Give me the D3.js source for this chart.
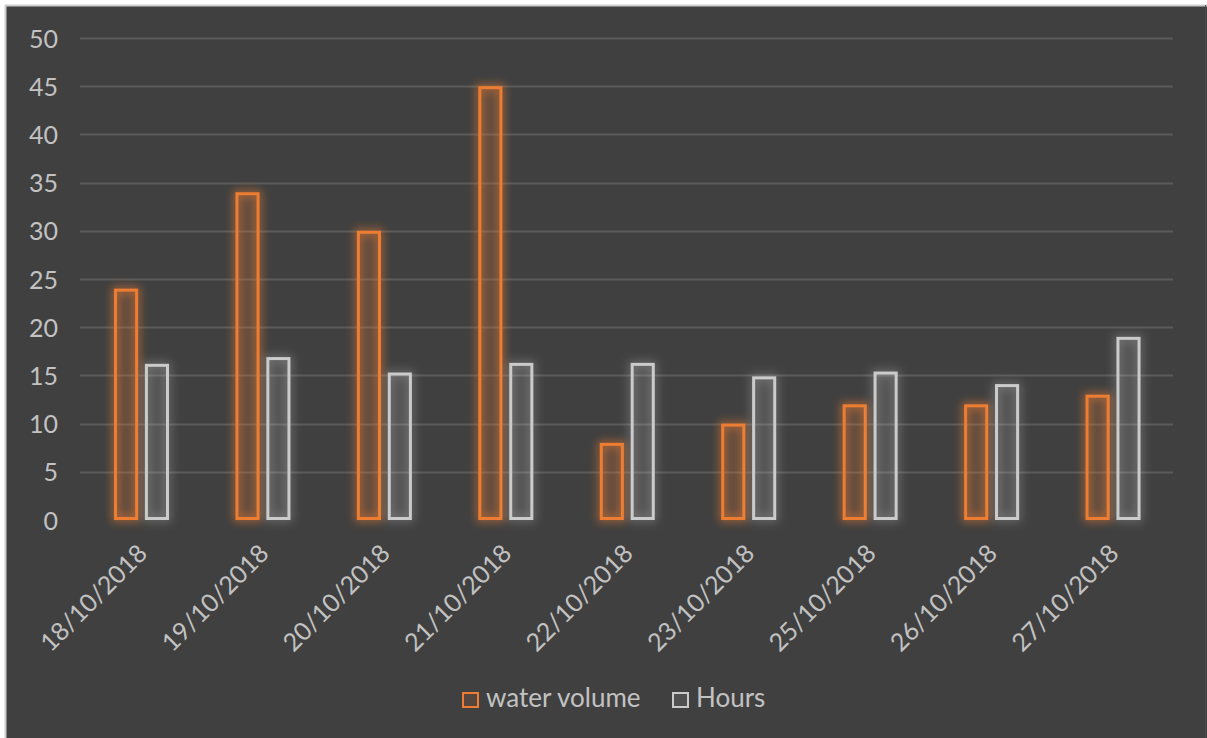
<!DOCTYPE html>
<html>
<head>
<meta charset="utf-8">
<script src="https://cdn.jsdelivr.net/npm/d3@7"></script>
<style>
  html, body { margin: 0; padding: 0; background: #ffffff; }
  svg { display: block; }
  text { font-family: Lato, "Open Sans", sans-serif; }
</style>
</head>
<body>
<svg id="chart" width="1207" height="738"></svg>
<script>
// Daily readings
const categories = ["18/10/2018", "19/10/2018", "20/10/2018", "21/10/2018", "22/10/2018",
                    "23/10/2018", "25/10/2018", "26/10/2018", "27/10/2018"];
const waterVolume = [24, 34, 30, 45, 8, 10, 12, 12, 13];
const hours = [16.2, 16.9, 15.3, 16.3, 16.3, 14.9, 15.4, 14.1, 19.0];
const seriesNames = ["water volume", "Hours"];
const yTicks = [0, 5, 10, 15, 20, 25, 30, 35, 40, 45, 50];

const W = 1207, H = 738;
const plot = { left: 80, right: 1173, top: 38, bottom: 520 };
const colors = { "water volume": "#ed7d31", "Hours": "#cbcbcb" };
const labelColor = "#c2c2c2";

const svg = d3.select("#chart");

// Glow filters for the bar outlines
const defs = svg.append("defs");
function glow(id, color, std, op) {
  const f = defs.append("filter").attr("id", id)
    .attr("x", "-60%").attr("y", "-20%").attr("width", "220%").attr("height", "140%");
  f.append("feMorphology").attr("in", "SourceAlpha").attr("operator", "dilate").attr("radius", 2).attr("result", "d");
  f.append("feGaussianBlur").attr("in", "d").attr("stdDeviation", std).attr("result", "b");
  f.append("feFlood").attr("flood-color", color).attr("flood-opacity", op);
  f.append("feComposite").attr("in2", "b").attr("operator", "in").attr("result", "g");
  const m = f.append("feMerge");
  m.append("feMergeNode").attr("in", "g");
  m.append("feMergeNode").attr("in", "SourceGraphic");
}
glow("glow-orange", "#ed7d31", 4.5, 0.55);
glow("glow-gray", "#d0d0d0", 5, 0.3);

// Chart background and frame
svg.append("rect").attr("x", 5).attr("y", 5).attr("width", W - 5).attr("height", H - 5).attr("fill", "#404040");
svg.append("line").attr("x1", 5.5).attr("x2", 5.5).attr("y1", 5).attr("y2", H).attr("stroke", "#cdcdcd").attr("stroke-width", 2);
svg.append("line").attr("x1", 5).attr("x2", W).attr("y1", 5.5).attr("y2", 5.5).attr("stroke", "#cdcdcd").attr("stroke-width", 2);
svg.append("line").attr("x1", W - 1.5).attr("x2", W - 1.5).attr("y1", 5).attr("y2", H).attr("stroke", "#4c4c4c").attr("stroke-width", 1);

const x = d3.scaleBand().domain(categories).range([plot.left, plot.right]).paddingInner(0).paddingOuter(0);
const y = d3.scaleLinear().domain([0, 50]).range([plot.bottom, plot.top]);
const xSub = d3.scaleBand().domain(seriesNames).range([34, 89]).paddingInner(0.22);

// Horizontal gridlines
svg.append("g").selectAll("line").data(yTicks.filter(t => t > 0)).join("line")
  .attr("x1", plot.left).attr("x2", plot.right)
  .attr("y1", d => Math.round(y(d)) + 0.5).attr("y2", d => Math.round(y(d)) + 0.5)
  .attr("stroke", "#5b5b5b").attr("stroke-width", 2);

// Y axis labels
const yAxis = d3.axisLeft(y).tickValues(yTicks).tickSize(0).tickPadding(0);
const gy = svg.append("g").attr("transform", "translate(58,0)").call(yAxis);
gy.select(".domain").remove();
gy.selectAll("text").attr("fill", labelColor).attr("font-size", 25)
  .attr("font-family", "Lato, 'Open Sans', sans-serif").attr("dy", "0.36em");

// X axis labels, rotated
const xAxis = d3.axisBottom(x).tickSize(0).tickPadding(0);
const gx = svg.append("g").attr("transform", `translate(0,${plot.bottom})`).call(xAxis);
gx.select(".domain").remove();
gx.selectAll("text")
  .attr("fill", labelColor).attr("font-size", 25)
  .attr("font-family", "Lato, 'Open Sans', sans-serif")
  .attr("text-anchor", "end").attr("dy", 0).attr("y", 0)
  .attr("transform", "translate(8,35) rotate(-45)");

// Bars
const rows = categories.map((c, i) => ({ c, vals: [
  { s: "water volume", v: waterVolume[i] },
  { s: "Hours", v: hours[i] }
]}));
const groups = svg.append("g").selectAll("g").data(rows).join("g")
  .attr("transform", d => `translate(${x(d.c)},0)`);
groups.selectAll("rect").data(d => d.vals).join("rect")
  .attr("x", d => xSub(d.s) + 1.5)
  .attr("width", xSub.bandwidth() - 3)
  .attr("y", d => y(d.v) + 1.5)
  .attr("height", d => y(0) - y(d.v) - 3)
  .attr("fill", d => colors[d.s])
  .attr("fill-opacity", d => d.s === "Hours" ? 0.1 : 0.13)
  .attr("stroke", d => colors[d.s])
  .attr("stroke-width", 3)
  .attr("filter", d => d.s === "Hours" ? "url(#glow-gray)" : "url(#glow-orange)");

// Legend
const legend = svg.append("g").attr("transform", "translate(462,692)");
const legendX = [0, 210];
seriesNames.forEach((s, i) => {
  const g = legend.append("g").attr("transform", `translate(${legendX[i]},0)`);
  g.append("rect").attr("x", 1).attr("y", 1).attr("width", 15).attr("height", 14)
    .attr("fill", colors[s]).attr("fill-opacity", 0.12)
    .attr("stroke", colors[s]).attr("stroke-width", 2);
  g.append("text").attr("x", 24).attr("y", 15).attr("fill", labelColor)
    .attr("font-size", 26).text(s);
});
</script>
</body>
</html>
